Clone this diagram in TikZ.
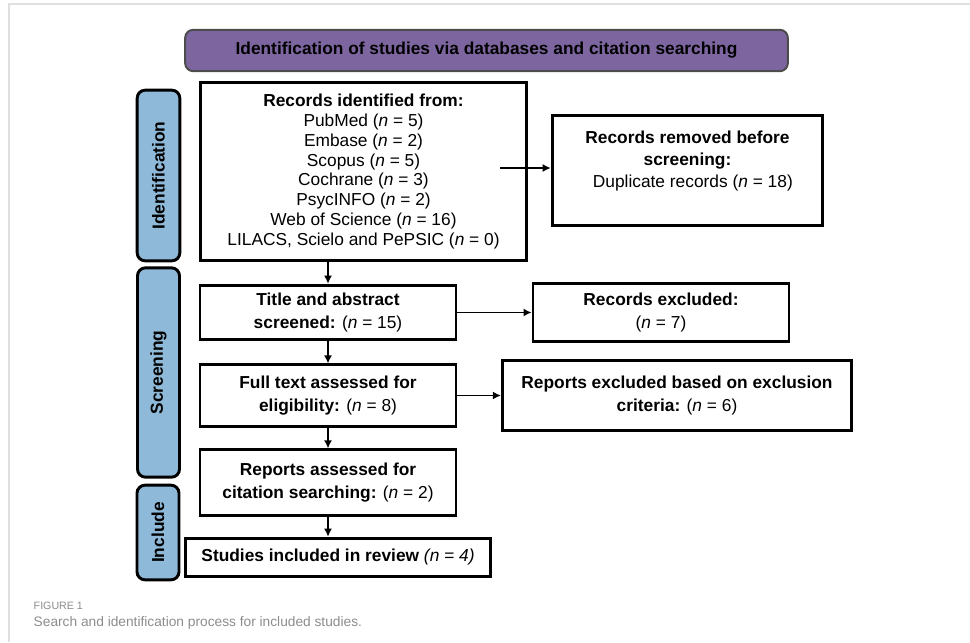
\documentclass[tikz,border=0pt]{standalone}
\usepackage{fontspec}
\setmainfont{Liberation Sans}
\usepackage{tikz}
\usetikzlibrary{arrows.meta}
\definecolor{headpurple}{RGB}{125,102,160}
\definecolor{phaseblue}{RGB}{142,185,216}
\definecolor{capgray}{RGB}{140,140,140}
\newcommand{\nn}[1]{(\textit{n} = #1)}

\tikzset{
  box/.style={draw, line width=2.2pt, fill=white, align=center, inner sep=0pt,
    font=\fontsize{13}{17}\selectfont},
  phase/.style={draw, line width=2.2pt, rounded corners=6pt, fill=phaseblue,
    rotate=90, inner sep=0pt, font=\fontsize{13}{14}\selectfont\bfseries},
}

\begin{document}
\begin{tikzpicture}[x=0.75pt, y=-0.75pt, ->, >={Latex[length=6pt,width=6pt]}, line width=1.1pt]
\useasboundingbox (0,0) rectangle (970,642);
% page frame
\draw[-, gray!25, line width=1.5pt] (9,642) -- (9,4) -- (970,4);

% heading
\node[draw=black!70, line width=1.5pt, rounded corners=6pt, fill=headpurple,
      minimum width=452pt, minimum height=31pt, font=\fontsize{13}{14}\selectfont\bfseries]
  (head) at (486.5,50.5) {Identification of studies via databases and citation searching};

% phases
\node[phase, minimum width=128pt, minimum height=32pt] (ident) at (158.5,175.5) {Identification};
\node[phase, minimum width=157pt, minimum height=31.5pt] (screen) at (158.5,372.5) {Screening};
\node[phase, minimum width=71pt, minimum height=31.5pt] (incl) at (158,532.5) {Include};

% identification
\node[box, minimum width=245pt, minimum height=133pt, font=\fontsize{13}{14.8}\selectfont]
  (recid) at (363.5,171.5) {\textbf{Records identified from:}\\
  PubMed \nn{5}\\ Embase \nn{2}\\ Scopus \nn{5}\\ Cochrane \nn{3}\\
  PsycINFO \nn{2}\\ Web of Science \nn{16}\\ LILACS, Scielo and PePSIC \nn{0}};
\node[box, minimum width=203pt, minimum height=83pt, font=\fontsize{13}{16.5}\selectfont]
  (removed) at (687.5,170.5) {\textbf{Records removed before}\\ \textbf{screening:}\\
  \hspace*{8pt}Duplicate records \nn{18}\\ \mbox{}};

% screening
\node[box, minimum width=192pt, minimum height=41pt] (tiab) at (328,312.5)
  {\textbf{Title and abstract}\\ \textbf{screened:} \nn{15}};
\node[box, minimum width=192pt, minimum height=44pt] (recex) at (661,312.5)
  {\textbf{Records excluded:}\\ \nn{7}};
\node[box, minimum width=192pt, minimum height=46pt] (full) at (328,395.5)
  {\textbf{Full text assessed for}\\ \textbf{eligibility:} \nn{8}};
\node[box, minimum width=262pt, minimum height=52pt] (repex) at (677,395.5)
  {\textbf{Reports excluded based on exclusion}\\ \textbf{criteria:} \nn{6}};
\node[box, minimum width=192pt, minimum height=49pt] (cit) at (328,482.5)
  {\textbf{Reports assessed for}\\ \textbf{citation searching:} \nn{2}};

% included
\node[box, minimum width=229pt, minimum height=29pt] (stud) at (338,557.5)
  {\textbf{Studies included in review} \textit{(n = 4)}};

% arrows
\coordinate (idout) at (500,168);
\draw (idout) -- (removed.west |- idout);
\draw (recid.south -| tiab.north) -- (tiab.north);
\draw (tiab) -- (recex);
\draw (tiab) -- (full);
\draw (full) -- (repex);
\draw (full) -- (cit);
\draw (cit.south) -- (cit.south |- stud.north);

% caption
\node[anchor=base west, inner sep=0pt, text=capgray, font=\fontsize{8}{9}\selectfont]
  (fig) at (33,609) {FIGURE 1};
\node[anchor=base west, inner sep=0pt, text=capgray, font=\fontsize{10.3}{12}\selectfont]
  (cap) at (33,626) {Search and identification process for included studies.};
\end{tikzpicture}
\end{document}
